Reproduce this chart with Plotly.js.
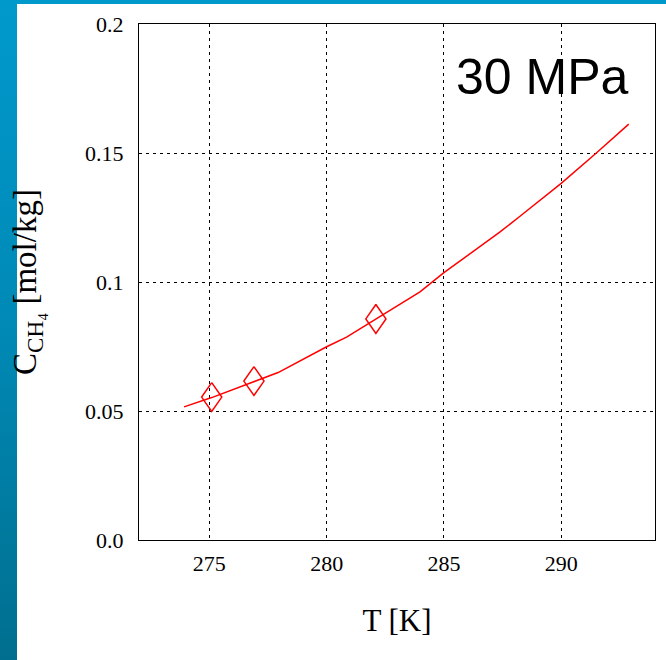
<!DOCTYPE html>
<html>
<head>
<meta charset="utf-8">
<script src="https://cdn.plot.ly/plotly-3.0.1.min.js"></script>
<style>
  html, body { margin: 0; padding: 0; background: #ffffff; }
  #wrap { position: relative; width: 666px; height: 660px; overflow: hidden; background: #ffffff; }
  #chart { position: absolute; left: 0; top: 0; width: 666px; height: 660px; z-index: 2; }
  #topband { position: absolute; left: 0; top: 0; width: 666px; height: 4px; background: #0099cc; z-index: 1; }
  #leftband { position: absolute; left: 0; top: 0; width: 17px; height: 660px; z-index: 1;
              background: linear-gradient(to bottom, #0099cc 0%, #0089b5 50%, #006f8f 100%); }
</style>
</head>
<body>
<div id="wrap">
  <div id="topband"></div>
  <div id="leftband"></div>
  <div id="chart"></div>
</div>
<script>
// Model curve (30 MPa)
const curveT = [273.92, 275.1, 277.93, 280.0, 280.85, 282.1, 283.98, 285.0, 287.38, 288.23, 290.0, 291.5, 292.88];
const curveC = [0.0516, 0.0552, 0.0649, 0.0749, 0.0786, 0.0857, 0.0962, 0.1036, 0.1193, 0.1254, 0.1382, 0.1500, 0.1612];
// Experimental points
const expT = [275.1, 276.9, 282.1];
const expC = [0.0554, 0.0616, 0.0857];
// Tick labels
const xTickVals = [275, 280, 285, 290];
const xTickText = ["275", "280", "285", "290"];
const yTickVals = [0, 0.05, 0.1, 0.15, 0.2];
const yTickText = ["0.0", "0.05", "0.1", "0.15", "0.2"];

// Marker style: open diamond, half-width / half-height in axis units (style constants)
const DIAMOND_HALF_W = 0.43;
const DIAMOND_HALF_H = 0.0056;

// Build diamond outlines around each experimental point
const dX = [], dY = [];
for (let i = 0; i < expT.length; i++) {
  const t = expT[i], c = expC[i];
  dX.push(t, t + DIAMOND_HALF_W, t, t - DIAMOND_HALF_W, t, null);
  dY.push(c + DIAMOND_HALF_H, c, c - DIAMOND_HALF_H, c, c + DIAMOND_HALF_H, null);
}

const serif = "Liberation Serif, Times New Roman, serif";

const traces = [
  {
    x: curveT, y: curveC, type: "scatter", mode: "lines",
    line: { color: "#ff0000", width: 1.5 },
    hoverinfo: "skip", showlegend: false
  },
  {
    x: dX, y: dY, type: "scatter", mode: "lines",
    line: { color: "#ff0000", width: 1.5 },
    connectgaps: false, hoverinfo: "skip", showlegend: false
  }
];

const axisCommon = {
  showline: true, linecolor: "#000000", linewidth: 1, mirror: true,
  showgrid: true, gridcolor: "#000000", gridwidth: 1, griddash: "3px,4px",
  zeroline: false, ticks: "", tickmode: "array",
  tickfont: { family: serif, size: 22, color: "#000000" }
};

const layout = {
  width: 666, height: 660,
  margin: { l: 139, r: 11, t: 24, b: 120 },
  paper_bgcolor: "rgba(0,0,0,0)", plot_bgcolor: "#ffffff",
  xaxis: Object.assign({}, axisCommon, {
    range: [272, 294],
    tickvals: xTickVals, ticktext: xTickText,
    ticklabelstandoff: 4,
    title: { text: "T [K]", font: { family: serif, size: 31, color: "#000000" }, standoff: 33 }
  }),
  yaxis: Object.assign({}, axisCommon, {
    range: [0, 0.2],
    tickvals: yTickVals, ticktext: yTickText,
    ticklabelstandoff: 10,
    title: { text: "C<sub>CH₄</sub> [mol/kg]", font: { family: serif, size: 33, color: "#000000" }, standoff: 38 }
  }),
  annotations: [
    {
      xref: "paper", yref: "paper", x: 0.953, y: 0.955, xanchor: "right", yanchor: "top",
      text: "30 MPa", showarrow: false,
      font: { family: "Liberation Sans, Arial, sans-serif", size: 50, color: "#000000" }
    }
  ]
};

Plotly.newPlot("chart", traces, layout, { displayModeBar: false, staticPlot: true });
</script>
</body>
</html>
